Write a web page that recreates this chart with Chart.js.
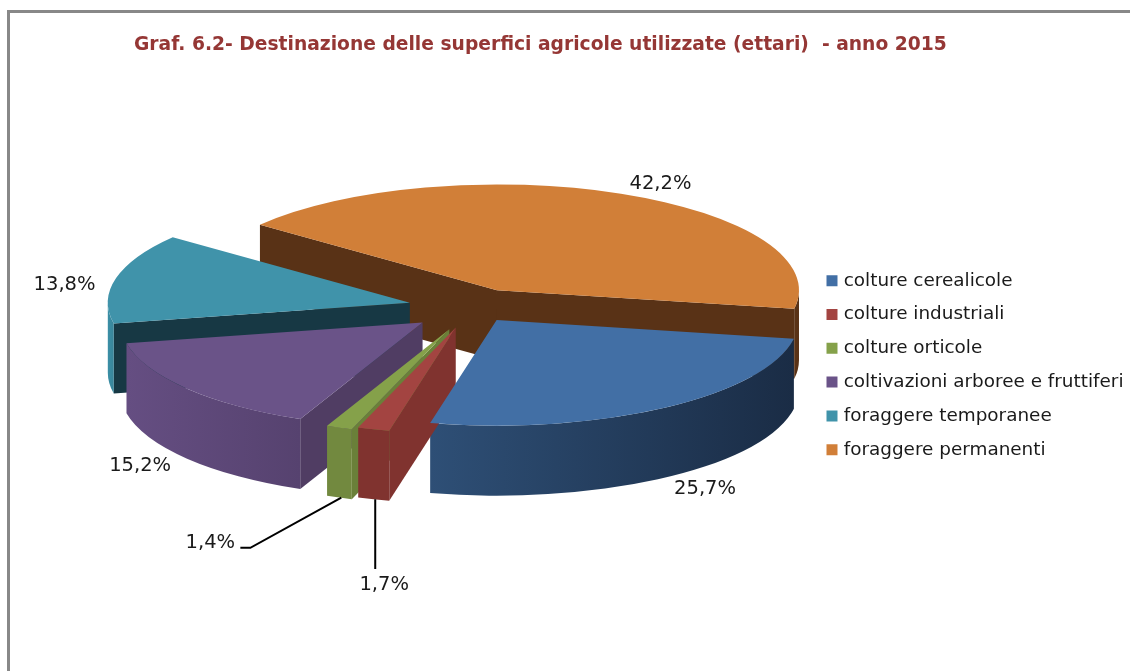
<!DOCTYPE html>
<html>
<head>
<meta charset="utf-8">
<title>Graf. 6.2</title>
<script src="https://cdn.jsdelivr.net/npm/chart.js@4/dist/chart.umd.js"></script>
<style>
	body { margin: 0; background: #fff; }
	#frame { position: absolute; left: 7px; top: 10px; width: 1123px; height: 661px; box-sizing: border-box; border-left: 3px solid #888; border-top: 3px solid #888; }
	#pie { position: absolute; left: 0; top: 0; }
</style>
</head>
<body>
<div id="frame"></div>
<canvas id="pie" width="1130" height="671"></canvas>
<script>
var chartTitle = 'Graf. 6.2- Destinazione delle superfici agricole utilizzate (ettari)  - anno 2015';
var categories = ['colture cerealicole', 'colture industriali', 'colture orticole', 'coltivazioni arboree e fruttiferi', 'foraggere temporanee', 'foraggere permanenti'];
var percentages = [25.7, 1.7, 1.4, 15.2, 13.8, 42.2];

var fontName = '"DejaVu Sans", Verdana, sans-serif';
var topColors = ['#426fa5', '#a34441', '#85a14a', '#6a5388', '#4093aa', '#d17f38'];
var wallColors = ['#1a2c45', '#80332f', '#6a8039', '#503d63', '#173844', '#593216'];
var rimLeft = ['#2e4f76', '#80332f', '#72893f', '#654e82', '#3a8fa6', '#593216'];
var rimRight = ['#1a2c45', '#80332f', '#72893f', '#56426f', '#3a8499', '#593216'];

// the flat pie from Chart.js gets squashed and moved here, one slice at a time
var look = {
	x: 474, y: 308, squash: 0.35, depth: 70,
	explode: [41, 58, 65, 66, 66, 56],
	shiftX: [0, -2.5, -1, 0, 0, 0],
	labelDist: [346, 535, 470, 348, 350, 350],
	labelTurn: [-3.5, -8.1, 9.2, 3, -4, 3.6]
};
var drawOrder = [5, 4, 0, 3, 2, 1];

function midAngle(arc) {
	return (arc.startAngle + arc.endAngle) / 2;
}

function sliceCenter(arc, i) {
	var m = midAngle(arc);
	return {
		x: look.x + look.shiftX[i] + look.explode[i] * Math.cos(m),
		y: look.y + look.explode[i] * look.squash * Math.sin(m)
	};
}

function onPie(c, r, angle) {
	return { x: c.x + r * Math.cos(angle), y: c.y + r * look.squash * Math.sin(angle) };
}

function drawCutWall(ctx, c, r, angle, color) {
	var p = onPie(c, r, angle);
	ctx.fillStyle = color;
	ctx.beginPath();
	ctx.moveTo(c.x, c.y);
	ctx.lineTo(p.x, p.y);
	ctx.lineTo(p.x, p.y + look.depth);
	ctx.lineTo(c.x, c.y + look.depth);
	ctx.closePath();
	ctx.fill();
}

function drawRim(ctx, c, r, from, to, i) {
	var g = ctx.createLinearGradient(c.x + r * Math.cos(to), 0, c.x + r * Math.cos(from), 0);
	g.addColorStop(0, rimLeft[i]);
	g.addColorStop(1, rimRight[i]);
	ctx.fillStyle = g;
	ctx.beginPath();
	ctx.ellipse(c.x, c.y, r, r * look.squash, 0, from, to);
	ctx.ellipse(c.x, c.y + look.depth, r, r * look.squash, 0, to, from, true);
	ctx.closePath();
	ctx.fill();
}

var pie3d = {
	id: 'pie3d',
	beforeDatasetDraw: function(chart, args) {
		var ctx = chart.ctx;
		var arcs = args.meta.data;
		var TAU = Math.PI * 2;

		// sides first, back to front
		drawOrder.forEach(function(i) {
			var arc = arcs[i];
			var c = sliceCenter(arc, i);
			var r = arc.outerRadius;
			if (Math.cos(arc.startAngle) < 0) drawCutWall(ctx, c, r, arc.startAngle, wallColors[i]);
			if (Math.cos(arc.endAngle) > 0) drawCutWall(ctx, c, r, arc.endAngle, wallColors[i]);
			// the rim shows only where the angle is in the front half of the pie
			for (var k = -1; k <= 2; k++) {
				var from = Math.max(arc.startAngle, k * TAU);
				var to = Math.min(arc.endAngle, k * TAU + Math.PI);
				if (to > from) drawRim(ctx, c, r, from, to, i);
			}
		});

		// tops are the library's own arc elements
		arcs.forEach(function(arc, i) {
			var c = sliceCenter(arc, i);
			ctx.save();
			ctx.translate(c.x, c.y);
			ctx.scale(1, look.squash);
			ctx.translate(-arc.x, -arc.y);
			arc.draw(ctx);
			ctx.restore();
		});
		return false;
	},
	afterDraw: function(chart) {
		var ctx = chart.ctx;
		var arcs = chart.getDatasetMeta(0).data;
		var spots = [];
		ctx.save();
		ctx.font = '19.5px ' + fontName;
		ctx.fillStyle = '#1a1a1a';
		ctx.textAlign = 'center';
		ctx.textBaseline = 'middle';
		arcs.forEach(function(arc, i) {
			var c = sliceCenter(arc, i);
			var angle = midAngle(arc) + look.labelTurn[i] * Math.PI / 180;
			var p = onPie(c, look.labelDist[i], angle);
			if (Math.sin(angle) > 0) p.y += look.depth;
			p.y += 2;
			spots.push(p);
			ctx.fillText(percentages[i].toFixed(1).replace('.', ',') + '%', p.x, p.y);
		});

		// leader lines of the two thin slices
		var red = onPie(sliceCenter(arcs[1], 1), arcs[1].outerRadius, midAngle(arcs[1]));
		var green = onPie(sliceCenter(arcs[2], 2), arcs[2].outerRadius, midAngle(arcs[2]));
		ctx.strokeStyle = '#000';
		ctx.lineWidth = 2;
		ctx.beginPath();
		ctx.moveTo(spots[1].x - 9, red.y + look.depth);
		ctx.lineTo(spots[1].x - 9, spots[1].y - 16);
		ctx.moveTo(green.x + 2, green.y + look.depth);
		ctx.lineTo(spots[2].x + 40, spots[2].y + 5);
		ctx.lineTo(spots[2].x + 30, spots[2].y + 5);
		ctx.stroke();
		ctx.restore();
	}
};

new Chart(document.getElementById('pie'), {
	type: 'pie',
	data: {
		labels: categories,
		datasets: [{
			data: percentages,
			backgroundColor: topColors,
			borderWidth: 0,
			radius: 302
		}]
	},
	plugins: [pie3d],
	options: {
		responsive: false,
		animation: false,
		rotation: 100.2,
		layout: { padding: { left: 134, top: 0, right: -3.5, bottom: 0 } },
		plugins: {
			tooltip: { enabled: false },
			title: {
				display: true,
				text: chartTitle,
				align: 'start',
				color: '#953735',
				font: { family: fontName, size: 18.7, weight: 'bold' },
				padding: { top: 34, bottom: 3 }
			},
			legend: {
				position: 'right',
				fullSize: false,
				labels: {
					usePointStyle: true,
					pointStyle: 'rect',
					boxWidth: 5,
					boxHeight: 11,
					padding: 15.4,
					color: '#1a1a1a',
					font: { family: fontName, size: 18.4 }
				}
			}
		}
	}
});
</script>
</body>
</html>
